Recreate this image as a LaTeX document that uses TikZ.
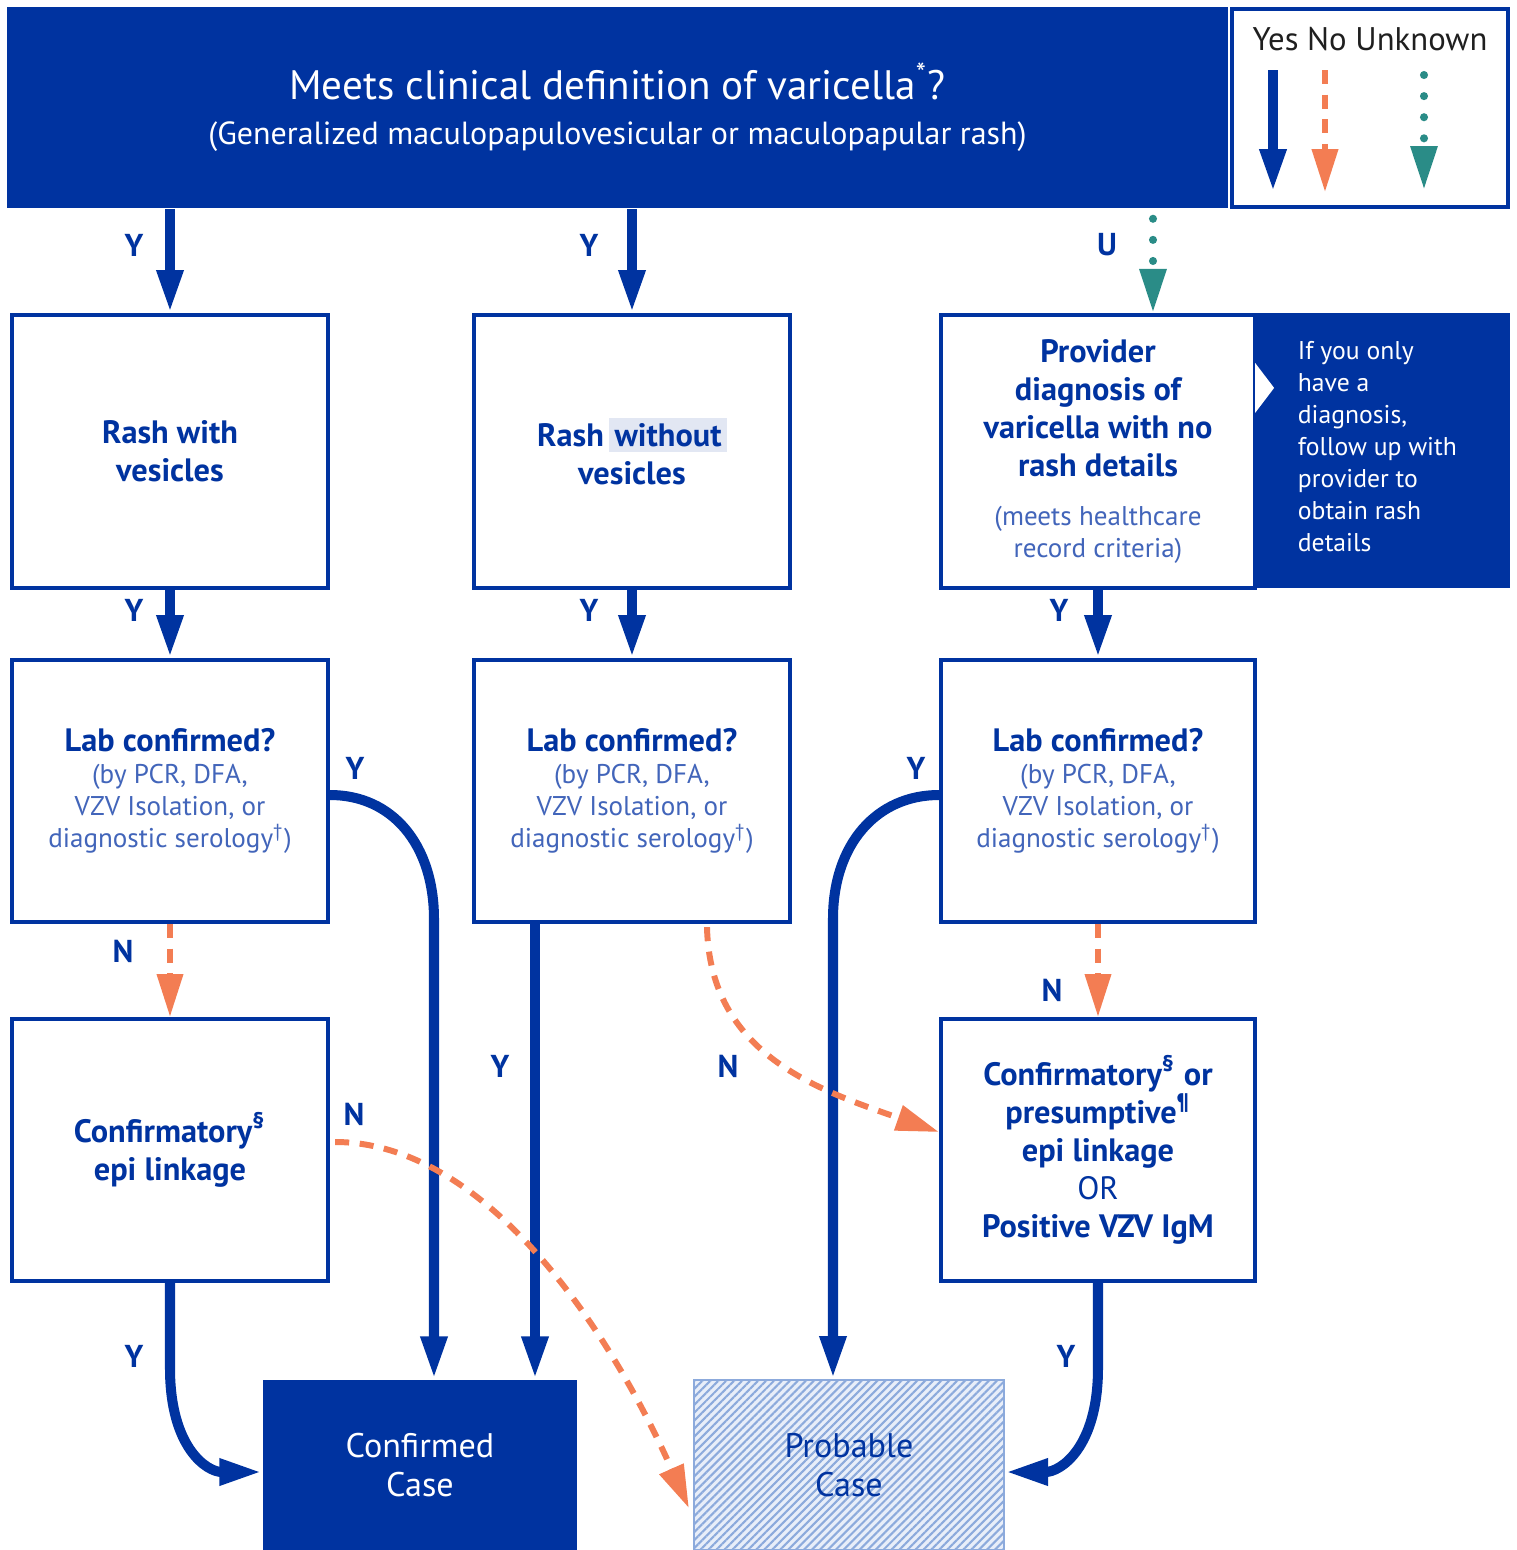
\documentclass[tikz,border=0pt]{standalone}
\usepackage{fontspec}
\setmainfont{PT Sans}
\usetikzlibrary{arrows.meta,positioning,calc,patterns.meta}
\definecolor{cdcblue}{RGB}{0,51,160}
\definecolor{noorange}{RGB}{243,125,83}
\definecolor{unkteal}{RGB}{42,140,135}
\definecolor{softblue}{RGB}{66,101,186}
\definecolor{hilite}{RGB}{226,231,243}
\definecolor{hatchblue}{RGB}{140,170,220}
\definecolor{hatchbg}{RGB}{232,238,249}
\setlength{\fboxsep}{1.5pt}
\setlength{\parindent}{0pt}
\newcommand\detail[1]{{\mdseries\color{softblue}\fontsize{7.7}{9.1}\selectfont #1}}

\begin{document}
\begin{tikzpicture}[x=0.01cm,y=-0.01cm]
\tikzset{box/.style={draw=cdcblue,line width=1.15pt,fill=white,text=cdcblue,
  minimum width=3.16cm,minimum height=2.73cm,text width=3.0cm,align=flush center,
  inner sep=0pt,font=\bfseries\fontsize{9.2}{10.8}\selectfont}}
\tikzset{labbox/.style={box,minimum height=2.62cm,font=\bfseries\fontsize{9.2}{9.1}\selectfont}}
\tikzset{casebox/.style={minimum width=3.14cm,minimum height=1.70cm,text width=3cm,
  align=flush center,inner sep=0pt,font=\fontsize{9.7}{10.9}\selectfont}}
\tikzset{yn/.style={text=cdcblue,font=\bfseries\fontsize{9}{10}\selectfont,inner sep=0pt}}
\tikzset{yes/.style={draw=cdcblue,line width=2.85pt,-{Triangle[length=12.2pt,width=7pt]}}}
\tikzset{no/.style={draw=noorange,line width=1.7pt,dash pattern=on 4pt off 3pt,
  -{Triangle[length=12.2pt,width=7.2pt]}}}
\tikzset{unk/.style={draw=unkteal,line width=2.3pt,line cap=round,dash pattern=on 0pt off 6pt,
  -{Triangle[length=12.5pt,width=7.2pt]}}}
\useasboundingbox (0,0) rectangle (1517,1550);

% question banner and key
\node[fill=cdcblue,text=white,minimum width=12.21cm,minimum height=2.01cm,text width=12cm,
  align=flush center,inner sep=0pt,font=\fontsize{11.7}{13}\selectfont] (meets) at (617.5,107.5)
  {Meets clinical definition of varicella\textsuperscript{*}?\\
   {\fontsize{9.1}{13}\selectfont(Generalized maculopapulovesicular or maculopapular rash)}};
\node[draw=cdcblue,line width=1.1pt,fill=white,minimum width=2.76cm,minimum height=1.98cm] (legend) at (1370,108) {};
\node[below=0.2cm of legend.north,inner sep=0pt,text=black!88,font=\fontsize{9.3}{10}\selectfont] (legendkey) {Yes No Unknown};
\coordinate (yestop) at (1273,70);
\coordinate (yesend) at (1273,192);
\coordinate (notop) at (1325,70);
\coordinate (noend) at (1325,192);
\coordinate (unktop) at (1424,75);
\coordinate (unkend) at (1424,190);
\draw[yes] (yestop) -- (yesend);
\draw[no] (notop) -- (noend);
\draw[unk] (unktop) -- (unkend);

% side note
\node[fill=cdcblue,minimum width=2.82cm,minimum height=2.75cm,inner sep=0pt] (notepanel) at (1369,450.5) {};
\node[anchor=west,inner sep=0pt,text=white,align=left,font=\fontsize{7.3}{9.1}\selectfont] (notetext)
  at ($(notepanel.west)+(70,-4)$) {If you only\\have a\\diagnosis,\\follow up with\\provider to\\obtain rash\\details};

% first row
\node[box] (rashw) at (170,451.5) {Rash with\\vesicles};
\node[box] (rashwo) at (632,451.5) {Rash\,\colorbox{hilite}{without}\\vesicles};
\node[box,minimum width=3.14cm] (prov) at (1098,451.5)
  {Provider\\diagnosis of\\varicella with no\\rash details\par\vspace{5pt}
   \detail{(meets healthcare\\record criteria)\par}};
\fill[white] ($(prov.north east)+(-2,50)$) -- ($(prov.north east)+(17,75)$) -- ($(prov.north east)+(-2,100)$) -- cycle;

% lab rows
\node[labbox] (lab1) at (170,791) {Lab confirmed?\\\detail{(by PCR, DFA,\\VZV Isolation, or\\diagnostic serology\textsuperscript{†})}};
\node[labbox] (lab2) at (632,791) {Lab confirmed?\\\detail{(by PCR, DFA,\\VZV Isolation, or\\diagnostic serology\textsuperscript{†})}};
\node[labbox,minimum width=3.14cm] (lab3) at (1098,791) {Lab confirmed?\\\detail{(by PCR, DFA,\\VZV Isolation, or\\diagnostic serology\textsuperscript{†})}};

% epi linkage
\node[box,minimum height=2.62cm] (epi) at (170,1150) {Confirmatory\textsuperscript{§}\\epi linkage};
\node[box,minimum width=3.14cm,minimum height=2.62cm] (presum) at (1098,1150)
  {Confirmatory\textsuperscript{§} or\\presumptive\textsuperscript{¶}\\epi linkage\\{\mdseries OR}\\Positive VZV IgM};

% outcomes
\node[casebox,fill=cdcblue,text=white] (confirmed) at (420,1465) {Confirmed\\Case};
\node[casebox,minimum width=3.10cm,text=cdcblue,draw=hatchblue,line width=0.4pt,
  preaction={fill=hatchbg},pattern={Lines[angle=45,distance=1.6pt,line width=0.6pt]},
  pattern color=hatchblue] (probable) at (849,1465) {Probable\\Case};

% yes arrows
\draw[yes] (meets.south -| rashw.north) -- (rashw.north);
\draw[yes] (meets.south -| rashwo.north) -- (rashwo.north);
\draw[unk] ($(meets.south -| prov.north)+(55,10)$) -- ($(prov.north)+(55,0)$);
\draw[yes] (rashw.south) -- (lab1.north);
\draw[yes] (rashwo.south) -- (lab2.north);
\draw[yes] (prov.south) -- (lab3.north);
\draw[yes] ($(lab1.east)+(0,4)$) .. controls +(62,0) and +(0,-75) .. ($(confirmed.north)+(14,-460)$)
  -- ($(confirmed.north)+(14,0)$);
\draw[yes] ($(lab2.south)+(-97,0)$) -- ($(confirmed.north)+(115,0)$);
\draw[yes] ($(lab3.west)+(0,4)$) .. controls +(-62,0) and +(0,-75) .. ($(probable.north)+(-16,-460)$)
  -- ($(probable.north)+(-16,0)$);
\draw[yes] (epi.south) -- ++(0,85) .. controls +(0,80) and +(-55,0) .. ($(confirmed.west)+(0,7)$);
\draw[yes] (presum.south) -- ++(0,85) .. controls +(0,80) and +(55,0) .. ($(probable.east)+(0,7)$);

% no arrows
\draw[no] (lab1.south) -- (epi.north);
\draw[no] (lab3.south) -- (presum.north);
\draw[no] ($(lab2.south)+(75,3)$) .. controls +(3,128) and +(-120,-42) .. ($(presum.west)+(0,-18)$);
\draw[no] ($(epi.east)+(5,-8)$) .. controls +(150,0) and +(-80,-180) .. ($(probable.west)+(-4,43)$);

% answer labels
\node[yn] (ytop1) at (134,245) {Y};
\node[yn] (ytop2) at (589,245) {Y};
\node[yn] (utop3) at (1107,245) {U};
\node[yn] (yrash1) at (134,610) {Y};
\node[yn] (yrash2) at (589,610) {Y};
\node[yn] (yprov) at (1059,610) {Y};
\node[yn] (ylab1) at (355,768) {Y};
\node[yn] (nlab1) at (123,951) {N};
\node[yn] (ylab2) at (500,1066) {Y};
\node[yn] (nlab2) at (728,1066) {N};
\node[yn] (ylab3) at (916,768) {Y};
\node[yn] (nlab3) at (1052,990) {N};
\node[yn] (nepi) at (354,1114) {N};
\node[yn] (yepi) at (134,1356) {Y};
\node[yn] (ypresum) at (1066,1356) {Y};
\end{tikzpicture}
\end{document}
